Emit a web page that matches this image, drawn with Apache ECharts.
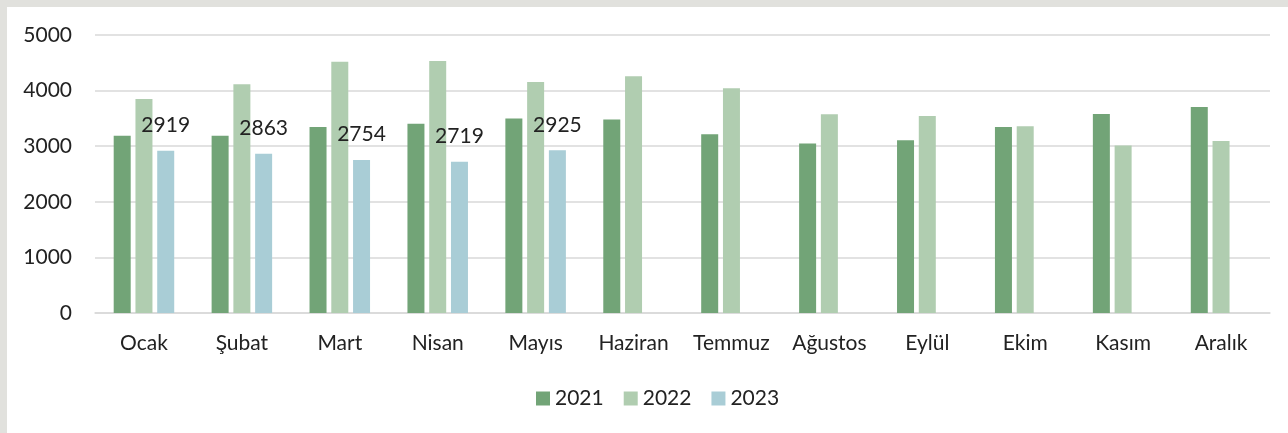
<!DOCTYPE html>
<html>
<head>
<meta charset="utf-8">
<script src="https://cdn.jsdelivr.net/npm/echarts@6/dist/echarts.min.js"></script>
<style>
    html, body { margin: 0; padding: 0; background: #e1e1dd; }
    #chart { position: absolute; left: 7px; top: 7px; width: 1281px; height: 426px; background: #fff; }
</style>
</head>
<body>
<div id="chart"></div>
<script>
// aylar
const months = ['Ocak', 'Şubat', 'Mart', 'Nisan', 'Mayıs', 'Haziran', 'Temmuz', 'Ağustos', 'Eylül', 'Ekim', 'Kasım', 'Aralık'];
const years = ['2021', '2022', '2023'];
const v2021 = [3190, 3190, 3347, 3406, 3496, 3478, 3215, 3047, 3107, 3347, 3580, 3706];
const v2022 = [3850, 4113, 4520, 4532, 4155, 4257, 4041, 3574, 3544, 3359, 3011, 3095];
const v2023 = [2919, 2863, 2754, 2719, 2925, null, null, null, null, null, null, null];
const yTicks = [0, 1000, 2000, 3000, 4000, 5000];

const colors = ['#72a477', '#b0cdb0', '#a9cdd6'];
const font = 'Lato';

let myChart = echarts.init(document.getElementById('chart'));

let option = {
    animation: false,
    color: colors,
    textStyle: { fontFamily: font },
    grid: { left: 88, right: 18, top: 28, bottom: 120 },
    legend: {
        data: years,
        left: 524,
        top: 376,
        icon: 'rect',
        itemWidth: 14,
        itemHeight: 14,
        itemGap: 20,
        textStyle: { fontFamily: font, fontSize: 21, color: '#222' }
    },
    xAxis: {
        type: 'category',
        data: months,
        axisTick: { show: false },
        axisLine: { lineStyle: { color: '#d9d9d9', width: 1.5 } },
        axisLabel: { fontFamily: font, fontSize: 21, color: '#222', margin: 20, interval: 0 }
    },
    yAxis: {
        type: 'value',
        min: yTicks[0],
        max: yTicks[yTicks.length - 1],
        interval: 1000,
        axisLine: { show: false },
        axisTick: { show: false },
        splitLine: { lineStyle: { color: '#d9d9d9', width: 1.5 } },
        axisLabel: { fontFamily: font, fontSize: 21, color: '#222', margin: 23, formatter: v => String(v) }
    },
    series: [
        { name: years[0], type: 'bar', data: v2021, barWidth: 17, barGap: '28%' },
        { name: years[1], type: 'bar', data: v2022, barWidth: 17, barGap: '28%' },
        {
            name: years[2], type: 'bar', data: v2023, barWidth: 17, barGap: '28%',
            label: { show: true, position: 'top', distance: 15, fontFamily: font, fontSize: 21, color: '#222' }
        }
    ]
};
myChart.setOption(option);
</script>
</body>
</html>
